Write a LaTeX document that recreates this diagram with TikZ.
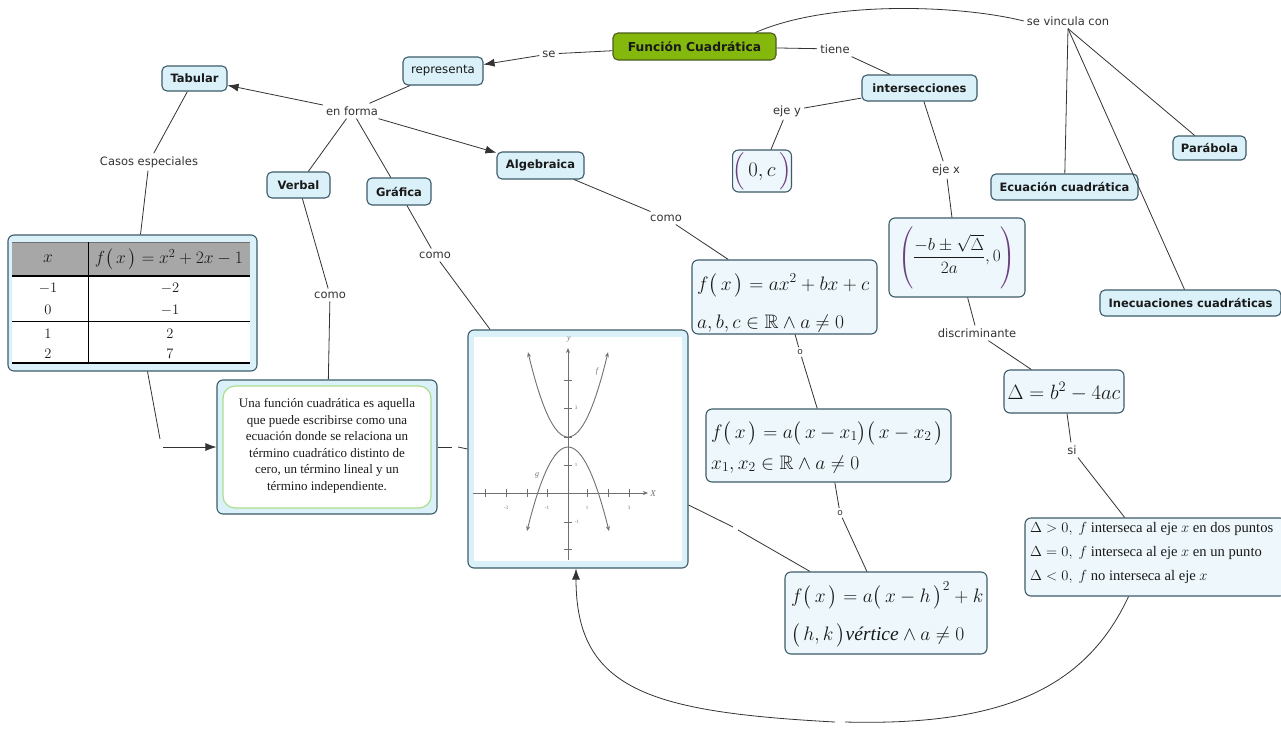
\RequirePackage{fix-cm}
\documentclass[tikz,border=0pt]{standalone}
\usepackage{amsmath,amssymb}
\usepackage[no-math]{fontspec}
\setmainfont{DejaVu Sans}
\newfontfamily\serifft{Liberation Serif}
\usetikzlibrary{arrows.meta}
\definecolor{cfill}{HTML}{DBF1FA}
\definecolor{cdraw}{HTML}{3E5B6A}
\definecolor{ffill}{HTML}{EEF8FC}
\definecolor{gfill}{HTML}{84B80C}
\definecolor{gdraw}{HTML}{4B5E1E}
\definecolor{lnk}{HTML}{333333}
\definecolor{ctext}{HTML}{1A1A1A}
\definecolor{purp}{HTML}{6B3F7F}
\definecolor{lgreen}{HTML}{A9DE8C}
\definecolor{thead}{HTML}{A7A7A7}
\definecolor{gline}{HTML}{707070}
\newcommand{\myfx}{f\bigl(\,x\,\bigr)}
\begin{document}
\begin{tikzpicture}[x=1pt,y=-1pt,
  concept/.style={draw=cdraw, fill=cfill, rounded corners=5pt, line width=1.1pt, text=ctext, font=\bfseries\fontsize{11.5}{13}\selectfont, inner sep=2pt},
  fbox/.style={draw=cdraw, fill=ffill, rounded corners=6pt, line width=1.1pt, inner sep=0pt},
  lab/.style={text=lnk, font=\fontsize{11.5}{13}\selectfont, inner sep=3pt},
  link/.style={draw=lnk, line width=0.8pt},
  arr/.style={link, -{Latex[length=11pt,width=8pt]}},
  ftext/.style={text=ctext, anchor=base west, inner sep=0pt, font=\fontsize{19.5}{23}\selectfont},
  ctxt/.style={text=ctext, anchor=base west, inner sep=0pt, font=\serifft\fontsize{14.6}{16}\selectfont},
  gtick/.style={draw=gline, line width=0.7pt},
  gtext/.style={text=gline, inner sep=0pt, font=\serifft\fontsize{5}{6}\selectfont},
  gcurve/.style={draw=gline, line width=0.9pt},
  tnum/.style={text=ctext, font=\fontsize{14.5}{17}\selectfont, anchor=base}
]
\useasboundingbox (0,0) rectangle (1281,728);
\fill[white] (0,0) rectangle (1281,728);

% ---------- concept nodes ----------
\node[concept, fill=gfill, draw=gdraw, font=\bfseries\fontsize{12.3}{14}\selectfont, minimum width=163pt, minimum height=27pt] (func) at (694.5,46.5) {Función Cuadrática};
\node[concept, font=\fontsize{11.8}{13}\selectfont, minimum width=80pt, minimum height=28pt] (repr) at (443,71) {representa};
\node[concept, minimum width=65pt, minimum height=25pt] (tab) at (194.5,78.5) {Tabular};
\node[concept, minimum width=87pt, minimum height=27pt] (alg) at (540.5,165.5) {Algebraica};
\node[concept, minimum width=63pt, minimum height=26pt] (verb) at (298.5,185) {Verbal};
\node[concept, minimum width=64pt, minimum height=27pt] (graf) at (399,191.5) {Gráfica};
\node[concept, minimum width=115pt, minimum height=26pt] (inter) at (919.5,88) {intersecciones};
\node[concept, minimum width=73pt, minimum height=24pt] (parab) at (1209.5,148) {Parábola};
\node[concept, minimum width=147pt, minimum height=26pt] (ecu) at (1064.5,187) {Ecuación cuadrática};
\node[concept, minimum width=181pt, minimum height=26pt] (inec) at (1190.5,303) {Inecuaciones cuadráticas};

% ---------- link labels ----------
\node[lab] (se) at (549,54) {se};
\node[lab] (enf) at (352,111) {en forma};
\node[lab] (casos) at (149,162) {Casos especiales};
\node[lab] (como1) at (330,295) {como};
\node[lab] (como2) at (435,255) {como};
\node[lab] (como3) at (666,218) {como};
\node[lab] (tiene) at (835,49) {tiene};
\node[lab] (ejey) at (787,111) {eje y};
\node[lab] (ejex) at (946,170) {eje x};
\node[lab] (vinc) at (1068,21) {se vincula con};
\node[lab] (disc) at (977,333) {discriminante};
\node[lab, font=\fontsize{9}{10}\selectfont, inner sep=2pt] (o1) at (800,352) {o};
\node[lab, font=\fontsize{9}{10}\selectfont, inner sep=2pt] (o2) at (840,513) {o};
\node[lab] (si) at (1072,450) {si};

% ---------- table ----------
\node[fbox, fill=cfill, minimum width=249pt, minimum height=136pt] (table) at (132.5,303) {};
\fill[white] (12,242) rectangle (250,363);
\fill[thead] (12,242) rectangle (250,276);
\draw[gline, line width=0.6pt] (12,242) -- (250,242);
\draw[black, line width=1.4pt] (12,276) -- (250,276);
\draw[black, line width=0.8pt] (12,321) -- (250,321);
\draw[black, line width=1.2pt] (12,363) -- (250,363);
\draw[black, line width=0.8pt] (88,242) -- (88,363);
\node[text=ctext, font=\fontsize{17.5}{20}\selectfont] (th1) at (48,259) {$x$};
\node[text=ctext, font=\fontsize{17.5}{20}\selectfont] (th2) at (169,259) {$\myfx=x^2+2x-1$};
\node[tnum] (r1a) at (48,292) {$-1$};
\node[tnum] (r1b) at (170,292) {$-2$};
\node[tnum] (r2a) at (48,314) {$0$};
\node[tnum] (r2b) at (170,314) {$-1$};
\node[tnum] (r3a) at (48,338) {$1$};
\node[tnum] (r3b) at (170,338) {$2$};
\node[tnum] (r4a) at (48,358) {$2$};
\node[tnum] (r4b) at (170,358) {$7$};

% ---------- verbal text box ----------
\node[fbox, fill=cfill, minimum width=220pt, minimum height=134pt] (vtext) at (327,447) {};
\draw[lgreen, fill=white, rounded corners=12pt, line width=1.2pt] (223,386) rectangle (431,508);
\node[text=ctext, align=center, font=\serifft\fontsize{13}{16.5}\selectfont, inner sep=0pt] (vt) at (327,446)
 {Una función cuadrática es aquella\\ que puede escribirse como una\\ ecuación donde se relaciona un\\ término cuadrático distinto de\\ cero, un término lineal y un\\ término independiente.};

% ---------- graph box ----------
\node[fbox, fill=cfill, minimum width=220pt, minimum height=238pt] (graph) at (578,449) {};
\fill[white] (474,337) rectangle (682,561);
\draw[gtick, -{Stealth[length=5pt,width=4pt]}] (473,493) -- (648,493);
\draw[gtick, -{Stealth[length=5pt,width=4pt]}] (568,560) -- (568,348);
\node[gtext, font=\serifft\itshape\fontsize{9}{10}\selectfont] (gX) at (653,494) {X};
\node[gtext, font=\serifft\itshape\fontsize{8}{10}\selectfont] (gY) at (569,340) {y};
\foreach \t in {485,506,527,547,587,608,629} \draw[gtick] (\t,489) -- (\t,497);
\foreach \t in {380,408,437,465,522,549} \draw[gtick] (564,\t) -- (572,\t);
\node[gtext] (tx1) at (506,508) {-3};
\node[gtext] (tx2) at (547,508) {-1};
\node[gtext] (tx3) at (587,508) {1};
\node[gtext] (tx4) at (629,508) {3};
\node[gtext] (ty1) at (576,408) {3};
\node[gtext] (ty2) at (576,465) {1};
\node[gtext] (ty3) at (577,522) {-1};
\draw[gcurve, {Stealth[length=5pt,width=4pt]}-{Stealth[length=5pt,width=4pt]}, domain=528:608, samples=40] plot (\x,{437-0.053*(\x-568)*(\x-568)});
\draw[gcurve, {Stealth[length=5pt,width=4pt]}-{Stealth[length=5pt,width=4pt]}, domain=527:609, samples=40] plot (\x,{447+0.05*(\x-568)*(\x-568)});
\node[gtext, font=\serifft\itshape\fontsize{8}{10}\selectfont] (lf) at (597,372) {f};
\node[gtext, font=\serifft\itshape\fontsize{8}{10}\selectfont] (lg) at (537,475) {g};

% ---------- formula boxes ----------
\node[fbox, minimum width=58pt, minimum height=42pt, font=\fontsize{20.7}{24}\selectfont, text=ctext] (zeroc) at (762,171)
 {${\color{purp}\Bigl(}\,0,c\,{\color{purp}\Bigr)}$};
\node[fbox, minimum width=136pt, minimum height=79pt, font=\fontsize{17.3}{21}\selectfont, text=ctext] (xint) at (957,257.5)
 {${\color{purp}\left(\vrule height 30pt depth 26pt width 0pt\color{ctext}\dfrac{-b\pm\sqrt{\Delta}}{2a},0\color{purp}\right)}$};
\node[fbox, minimum width=120pt, minimum height=43pt, font=\fontsize{20.7}{24}\selectfont, text=ctext] (delta) at (1064,391.5)
 {$\Delta=b^2-4ac$};

\node[fbox, minimum width=185pt, minimum height=74pt] (std) at (784.5,297) {};
\node[ftext] (std1) at (697,290) {$\myfx=ax^2+bx+c$};
\node[ftext] (std2) at (697,328) {$a,b,c\in\mathbb{R}\wedge a\neq 0$};

\node[fbox, minimum width=245pt, minimum height=73pt] (fact) at (828.5,445.5) {};
\node[ftext] (fact1) at (711,438) {$\myfx=a\bigl(\,x-x_1\bigr)\bigl(\,x-x_2\,\bigr)$};
\node[ftext] (fact2) at (711,469) {$x_1,x_2\in\mathbb{R}\wedge a\neq 0$};

\node[fbox, minimum width=202pt, minimum height=82pt] (vert) at (886,613) {};
\node[ftext] (vert1) at (791,602) {$\myfx=a\bigl(\,x-h\,\bigr)^2+k$};
\node[ftext] (vert2) at (791,640) {$\bigl(\,h,k\,\bigr)\mbox{\serifft\itshape vértice}\wedge a\neq 0$};

\node[fbox, minimum width=261pt, minimum height=78pt] (cases) at (1155.5,557) {};
\node[ctxt] (c1) at (1030,532) {$\Delta>0,\ f$ interseca al eje $x$ en dos puntos};
\node[ctxt] (c2) at (1030,556) {$\Delta=0,\ f$ interseca al eje $x$ en un punto};
\node[ctxt] (c3) at (1030,580) {$\Delta<0,\ f$ no interseca al eje $x$};

% ---------- connectors ----------
\draw[link] (func) -- (se);
\draw[arr] (se) -- (repr);
\draw[link] (repr) -- (enf);
\draw[arr] (enf) -- (tab);
\draw[arr] (enf) -- (alg);
\draw[link] (enf) -- (verb);
\draw[link] (enf) -- (graf);
\draw[link] (tab) -- (casos);
\draw[link] (casos) -- (table);
\draw[link] (verb) -- (como1);
\draw[link] (como1) -- (vtext);
\draw[link] (graf) -- (como2);
\draw[link] (como2) -- (graph);
\draw[link] (alg) -- (como3);
\draw[link] (como3) -- (std);
\draw[link] (std) -- (o1);
\draw[link] (o1) -- (fact);
\draw[link] (fact) -- (o2);
\draw[link] (o2) -- (vert);
\draw[link] (func) -- (tiene);
\draw[link] (tiene) -- (inter);
\draw[link] (inter) -- (ejey);
\draw[link] (ejey) -- (zeroc);
\draw[link] (inter) -- (ejex);
\draw[link] (ejex) -- (xint);
\draw[link] (xint) -- (disc);
\draw[link] (disc) -- (delta);
\draw[link] (delta) -- (si);
\draw[link] (si) -- (cases);
\draw[link] ([xshift=-21pt]func.north east) .. controls (830,0) and (960,5) .. (vinc.west);
\draw[link] (vinc.south) -- (ecu);
\draw[link] (vinc.south) -- (parab);
\draw[link] (vinc.south) -- (inec);
% table -> verbal text (through an empty label)
\coordinate (e1a) at (160,439);
\coordinate (e1b) at (163,447);
\draw[link] ([xshift=15pt]table.south) -- (e1a);
\draw[arr] (e1b) -- (vtext.west);
% verbal text -- graph
\coordinate (e2a) at (452,447);
\coordinate (e2b) at (458,447);
\draw[link] (vtext.east) -- (e2a);
\draw[link] (e2b) -- (graph.west);
% graph -- vertex form
\coordinate (e3a) at (733,527);
\coordinate (e3b) at (738,530);
\draw[link] ([yshift=-56pt]graph.east) -- (e3a);
\draw[link] (e3b) -- ([xshift=-76pt]vert.north);
% cases -> graph (long curve)
\coordinate (e4a) at (845,722);
\coordinate (e4b) at (835,722);
\draw[link] ([xshift=-27pt]cases.south) .. controls (1085,690) and (1000,726) .. (e4a);
\draw[arr] (e4b) .. controls (650,712) and (576,690) .. ([xshift=-2pt]graph.south);
\end{tikzpicture}
\end{document}
